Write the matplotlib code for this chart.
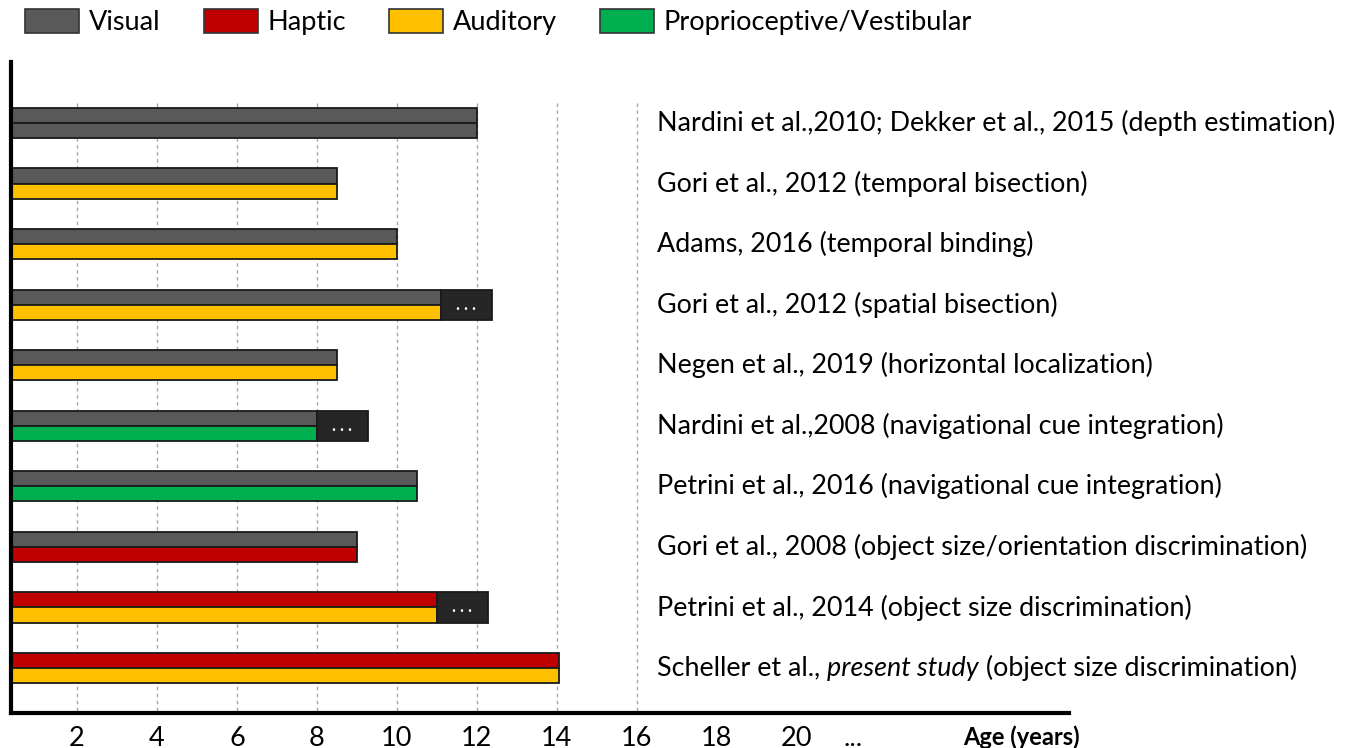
import matplotlib
matplotlib.use("Agg")
import matplotlib.pyplot as plt
from matplotlib.patches import Patch

plt.rcParams['font.family'] = ['Lato', 'DejaVu Sans']

# ---------------- data ----------------
studies = [
    "Nardini et al.,2010; Dekker et al., 2015 (depth estimation)",
    "Gori et al., 2012 (temporal bisection)",
    "Adams, 2016 (temporal binding)",
    "Gori et al., 2012 (spatial bisection)",
    "Negen et al., 2019 (horizontal localization)",
    "Nardini et al.,2008 (navigational cue integration)",
    "Petrini et al., 2016 (navigational cue integration)",
    "Gori et al., 2008 (object size/orientation discrimination)",
    "Petrini et al., 2014 (object size discrimination)",
    "Scheller et al., present study (object size discrimination)",
]
top_modality = ["Visual", "Visual", "Visual", "Visual", "Visual",
                "Visual", "Visual", "Visual", "Haptic", "Haptic"]
bottom_modality = ["Visual", "Auditory", "Auditory", "Auditory", "Auditory",
                   "Proprioceptive/Vestibular", "Proprioceptive/Vestibular",
                   "Haptic", "Auditory", "Auditory"]
age_integration = [12.0, 8.5, 10.0, 11.1, 8.5, 8.0, 10.5, 9.0, 11.0, 14.05]
beyond_extent = [0, 0, 0, 1.27, 0, 1.27, 0, 0, 1.27, 0]

modalities = ["Visual", "Haptic", "Auditory", "Proprioceptive/Vestibular"]
modality_colors = {"Visual": "#595959", "Haptic": "#C00000",
                   "Auditory": "#FFC000", "Proprioceptive/Vestibular": "#00B050"}

tick_values = [2, 4, 6, 8, 10, 12, 14, 16, 18, 20, 21.4, 25.6]
tick_labels = ["2", "4", "6", "8", "10", "12", "14", "16", "18", "20", "...", "Age (years)"]
grid_values = [2, 4, 6, 8, 10, 12, 14, 16]

# ---------------- figure ----------------
W, H = 1354, 748
fig = plt.figure(figsize=(W / 100, H / 100), dpi=100)
ax = fig.add_axes([10.5 / W, 1 - 713 / H, (1069 - 10.5) / W, (713 - 62) / H])

n = len(studies)
rows = list(range(n))
bar_h = 0.25
edge = "#1a1a1a"
y_bottom = (n - 1) + 0.743
y_top = -1.007

ax.vlines(grid_values, -0.33, y_bottom, colors="#a8a8a8",
          linestyles=(0, (2.5, 2.5)), linewidth=1.0, zorder=0)

ax.barh([r - bar_h / 2 for r in rows], age_integration, height=bar_h,
        color=[modality_colors[m] for m in top_modality],
        edgecolor=edge, linewidth=1.3, zorder=2)
ax.barh([r + bar_h / 2 for r in rows], age_integration, height=bar_h,
        color=[modality_colors[m] for m in bottom_modality],
        edgecolor=edge, linewidth=1.3, zorder=2)

for r, a, e in zip(rows, age_integration, beyond_extent):
    if e > 0:
        ax.barh(r, e, left=a, height=2 * bar_h, color="#262626",
                edgecolor=edge, linewidth=1.3, zorder=2)
        ax.text(a + e / 2, r + 0.0, ". . .", color="white", fontsize=12,
                fontweight="bold", ha="center", va="center", zorder=3)

label_x = 16.5
label_fs = 19.4
for r, s in zip(rows, studies):
    if "present study" in s:
        pre, post = s.split("present study")
        t1 = ax.text(label_x, r, pre, fontsize=label_fs, ha="left", va="center")
        t2 = ax.annotate("present study", xy=(1, 0), xycoords=t1, fontsize=label_fs,
                         fontstyle="italic", ha="left", va="bottom")
        ax.annotate(post, xy=(1, 0), xycoords=t2, fontsize=label_fs,
                    ha="left", va="bottom")
    else:
        ax.text(label_x, r, s, fontsize=label_fs, ha="left", va="center")

ax.set_xlim(0.34, 26.8)
ax.set_ylim(y_bottom, y_top)
ax.set_xticks(tick_values)
ax.set_xticklabels(tick_labels, fontsize=19.5)
for lbl in ax.get_xticklabels():
    if lbl.get_text().startswith("Age"):
        lbl.set_fontweight("bold")
        lbl.set_fontsize(17)
ax.tick_params(axis="x", length=0, pad=9)
ax.set_yticks([])
for side in ["top", "right"]:
    ax.spines[side].set_visible(False)
for side in ["left", "bottom"]:
    ax.spines[side].set_linewidth(3)
    ax.spines[side].set_color("black")

handles = [Patch(facecolor=modality_colors[m], edgecolor="#333333", linewidth=1.2, label=m)
           for m in modalities]
fig.legend(handles=handles, loc="upper left", bbox_to_anchor=(25 / W, 1 - 9 / H),
           ncol=4, frameon=False, fontsize=19.5, handlelength=2.0, handleheight=1.0,
           handletextpad=0.35, columnspacing=1.6, borderpad=0, borderaxespad=0)

fig.savefig("out.png", dpi=100)
